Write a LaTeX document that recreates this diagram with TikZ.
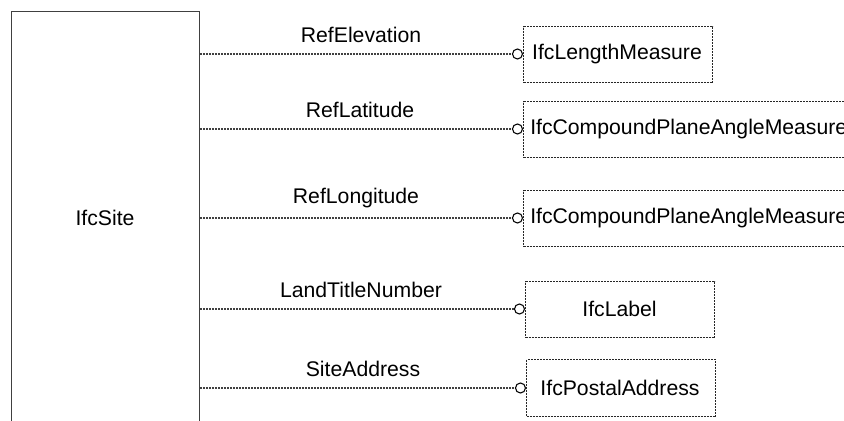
\documentclass[tikz,border=0pt]{standalone}
\usepackage{fontspec}
\setmainfont{Liberation Sans}
\begin{document}
\begin{tikzpicture}[x=0.75pt,y=-0.75pt,
  every node/.style={font=\fontsize{15.9}{18}\selectfont, inner sep=0pt},
  entity/.style={draw=black!75, line width=1pt, rectangle, anchor=north west},
  typebox/.style={draw=black!85, line width=0.8pt, dash pattern=on 1.5pt off 0.75pt,
    rectangle, anchor=north west},
  attr/.style={draw=black!75, line width=0.8pt, dash pattern=on 1.5pt off 0.75pt},
  port/.style={draw=black, line width=0.8pt, circle, fill=white, minimum size=7.5pt, inner sep=0pt}]
\useasboundingbox (0,0) rectangle (844,421);
\clip (0,0) rectangle (844,421);

% the entity, running past the lower edge
\node[entity, minimum width=188*0.75pt, minimum height=414*0.75pt] (site) at (11,11) {};
\node at (105,218) (sitename) {IfcSite};

% attribute types
\node[typebox, minimum width=189*0.75pt, minimum height=56*0.75pt] (t1) at (523,26) {};
\node at (617,54) (n1) {IfcLengthMeasure};
\node[typebox, minimum width=330*0.75pt, minimum height=56*0.75pt] (t2) at (523,101) {};
\node[anchor=west] at (530,129) (n2) {IfcCompoundPlaneAngleMeasure};
\node[typebox, minimum width=330*0.75pt, minimum height=56*0.75pt] (t3) at (523,190) {};
\node[anchor=west] at (530,218) (n3) {IfcCompoundPlaneAngleMeasure};
\node[typebox, minimum width=189*0.75pt, minimum height=56*0.75pt] (t4) at (525,281) {};
\node at (619.5,309) (n4) {IfcLabel};
\node[typebox, minimum width=189*0.75pt, minimum height=57*0.75pt] (t5) at (526,359) {};
\node at (620,388) (n5) {IfcPostalAddress};

% optional-attribute ports on the type boxes
\node[port, anchor=east] (c1) at (t1.west |- 0,54) {};
\node[port, anchor=east] (c2) at (t2.west |- 0,129) {};
\node[port, anchor=east] (c3) at (t3.west |- 0,218) {};
\node[port, anchor=east] (c4) at (t4.west |- 0,309) {};
\node[port, anchor=east] (c5) at (t5.west |- 0,388) {};

% attribute connectors
\draw[attr] (site.east |- c1) -- (c1.west);
\draw[attr] (site.east |- c2) -- (c2.west);
\draw[attr] (site.east |- c3) -- (c3.west);
\draw[attr] (site.east |- c4) -- (c4.west);
\draw[attr] (site.east |- c5) -- (c5.west);

% attribute names
\node at (361,35) (a1) {RefElevation};
\node at (360,110) (a2) {RefLatitude};
\node at (356,198) (a3) {RefLongitude};
\node at (361,290) (a4) {LandTitleNumber};
\node at (363,369) (a5) {SiteAddress};
\end{tikzpicture}
\end{document}
